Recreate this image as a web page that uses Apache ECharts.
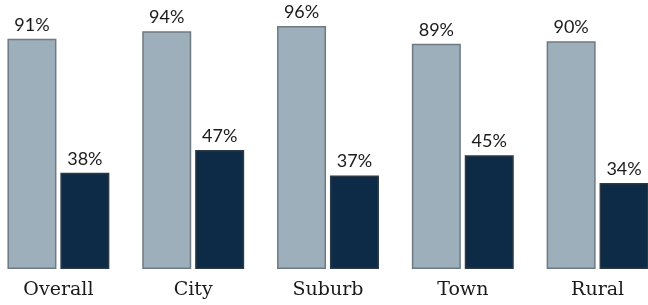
<!DOCTYPE html>
<html>
<head>
<meta charset="utf-8">
<script src="https://cdn.jsdelivr.net/npm/echarts@6/dist/echarts.min.js"></script>
<style>
  html, body { margin: 0; padding: 0; background: #fff; overflow: hidden; }
  /* chart is a little wider than the window so the outer bars touch the edges */
  #chart { width: 674px; height: 305px; margin-left: -9px; }
</style>
</head>
<body>
<div id="chart"></div>
<script>
  // values
  var categories = ['Overall', 'City', 'Suburb', 'Town', 'Rural'];
  var lightValues = [91, 94, 96, 89, 90];
  var darkValues = [38, 47, 37, 45, 34];

  var chart = echarts.init(document.getElementById('chart'));

  function pctLabel(p) { return p.value + '%'; }

  chart.setOption({
    animation: false,
    grid: { left: 0, right: 0, top: 16, height: 253, containLabel: false },
    xAxis: {
      type: 'category',
      data: categories,
      axisLine: { show: false },
      axisTick: { show: false },
      axisLabel: {
        margin: 12,
        color: '#1a1a1a',
        fontFamily: 'DejaVu Serif',
        fontSize: 19
      }
    },
    yAxis: {
      type: 'value',
      min: 0,
      max: 100,
      show: false
    },
    series: [{
      type: 'bar',
      data: lightValues,
      barWidth: 49,
      barGap: '8%',
      itemStyle: { color: '#9dafbb', borderColor: '#6e7a82', borderWidth: 1.5 },
      label: {
        show: true,
        position: 'top',
        distance: 5,
        formatter: pctLabel,
        color: '#1a1a1a',
        fontFamily: 'Lato',
        fontSize: 18
      }
    }, {
      type: 'bar',
      data: darkValues,
      barWidth: 49,
      itemStyle: { color: '#0d2b47', borderColor: '#2b3a46', borderWidth: 1.5 },
      label: {
        show: true,
        position: 'top',
        distance: 5,
        formatter: pctLabel,
        color: '#1a1a1a',
        fontFamily: 'Lato',
        fontSize: 18
      }
    }]
  });
</script>
</body>
</html>
